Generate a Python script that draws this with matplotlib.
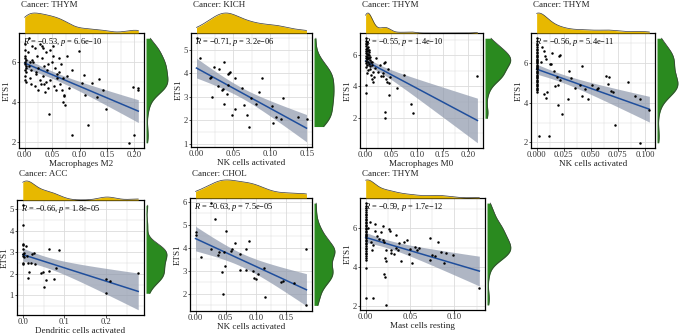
import numpy as np
import matplotlib
matplotlib.use("Agg")
import matplotlib.pyplot as plt
from matplotlib.ticker import FixedLocator

plt.rcParams["font.family"] = ["Liberation Serif", "DejaVu Serif"]
plt.rcParams["mathtext.fontset"] = "custom"
plt.rcParams["mathtext.rm"] = "Liberation Serif"
plt.rcParams["mathtext.it"] = "Liberation Serif:italic"

# ---------------- data ----------------
# THYM: Macrophages M2 vs ETS1
m2_x = [0.000, 0.001, 0.000, 0.002, 0.000, 0.001, 0.003, 0.000, 0.002, 0.001, 0.000, 0.002, 0.001, 0.003,
        0.008, 0.006, 0.010, 0.007, 0.012, 0.009, 0.011, 0.013, 0.014,
        0.018, 0.022, 0.016, 0.025, 0.020, 0.027, 0.019, 0.024, 0.028, 0.021, 0.029,
        0.033, 0.038, 0.031, 0.036, 0.041, 0.034, 0.039, 0.043, 0.037, 0.032, 0.042, 0.035, 0.044,
        0.047, 0.052, 0.049, 0.055, 0.058, 0.046, 0.053, 0.057, 0.051, 0.059,
        0.062, 0.066, 0.063, 0.069, 0.064, 0.068, 0.072, 0.070,
        0.099, 0.087, 0.116, 0.190, 0.200, 0.198, 0.207, 0.207, 0.149, 0.143, 0.136, 0.122,
        0.104, 0.108, 0.110, 0.131, 0.086, 0.077, 0.080, 0.071, 0.074, 0.077]
m2_y = [6.9, 6.3, 6.2, 6.1, 6.0, 5.9, 5.8, 5.6, 5.5, 5.3, 5.1, 5.0, 6.6, 5.7,
        7.2, 6.5, 6.0, 5.8, 5.6, 5.2, 4.9, 6.1, 6.8,
        6.7, 6.3, 6.0, 5.7, 5.4, 5.1, 4.8, 4.6, 6.9, 5.5, 4.9,
        6.7, 6.5, 6.2, 5.8, 5.6, 5.3, 5.0, 4.7, 4.5, 6.8, 5.9, 4.9, 3.44,
        6.6, 6.3, 6.0, 5.7, 5.4, 5.1, 4.8, 4.6, 6.8, 5.2,
        6.2, 5.9, 5.5, 5.2, 4.9, 4.6, 4.3, 4.0,
        6.57, 2.37, 2.89, 1.98, 2.37, 4.75, 4.60, 4.70, 3.67, 4.63, 5.15, 4.97,
        4.97, 5.37, 4.37, 4.28, 5.63, 5.29, 4.71, 4.37, 3.88, 6.31]

# KICH: NK cells activated vs ETS1
kich_x = [0.000, 0.005, 0.018, 0.019, 0.024, 0.030, 0.021, 0.029, 0.034, 0.036, 0.037, 0.037,
          0.041, 0.042, 0.044, 0.046, 0.042, 0.048, 0.052, 0.052, 0.061, 0.064, 0.068, 0.071,
          0.074, 0.080, 0.085, 0.089, 0.102, 0.104, 0.108, 0.114, 0.117, 0.138, 0.149]
kich_y = [5.50, 4.67, 3.81, 3.85, 4.29, 4.17, 3.00, 3.47, 3.30, 3.33, 4.49, 2.69,
          3.11, 3.99, 4.03, 4.06, 3.49, 2.24, 3.79, 2.50, 3.40, 2.64, 2.24, 1.74,
          2.96, 2.70, 3.19, 3.81, 2.61, 1.87, 2.14, 2.07, 2.96, 2.14, 2.04]

# THYM: Macrophages M0 vs ETS1
m0_x = [0.000, 0.001, 0.002, 0.000, 0.003, 0.001, 0.004, 0.002, 0.000, 0.005, 0.001, 0.003, 0.006,
        0.000, 0.002, 0.004, 0.007, 0.001, 0.003, 0.009, 0.000, 0.005, 0.002, 0.008, 0.001, 0.004,
        0.011, 0.000, 0.006, 0.003, 0.012, 0.001, 0.008, 0.005, 0.014, 0.002, 0.010, 0.016, 0.013,
        0.015, 0.009, 0.012, 0.007, 0.004, 0.006, 0.000, 0.000,
        0.038, 0.035, 0.030, 0.033, 0.041, 0.044, 0.046, 0.047, 0.046, 0.062, 0.075, 0.038, 0.038,
        0.088, 0.092, 0.218, 0.021, 0.018, 0.025, 0.028, 0.034, 0.040]
m0_y = [7.10, 6.95, 6.85, 6.75, 6.70, 6.62, 6.55, 6.50, 6.42, 6.35, 6.30, 6.25, 6.20,
        6.15, 6.10, 6.05, 6.00, 5.95, 5.92, 5.88, 5.85, 5.80, 5.75, 5.70, 5.65, 5.60,
        5.55, 5.50, 5.45, 5.40, 5.35, 5.25, 5.15, 5.05, 4.95, 4.85, 4.75, 4.60, 4.45,
        4.30, 5.30, 5.60, 5.80, 6.10, 6.35, 4.07, 3.60,
        5.60, 5.50, 4.70, 4.65, 4.30, 5.10, 4.20, 4.60, 3.43, 3.89, 4.75, 2.34, 1.95,
        2.86, 2.30, 4.65, 5.80, 5.20, 4.90, 5.40, 4.85, 4.50]

# THYM: NK cells activated vs ETS1
nk_x = [0.000] * 39 + [
        0.002, 0.011, 0.005, 0.007, 0.008, 0.009, 0.012, 0.013, 0.014, 0.004, 0.007, 0.010, 0.009,
        0.016, 0.021, 0.022, 0.020, 0.022, 0.017, 0.019, 0.020, 0.023, 0.029, 0.030, 0.032, 0.035,
        0.040, 0.042, 0.042, 0.045, 0.047, 0.051, 0.056, 0.057, 0.064, 0.067, 0.069, 0.066, 0.070,
        0.072, 0.084, 0.091, 0.095, 0.095, 0.104]
nk_y = [7.25, 7.10, 6.95, 6.90, 6.80, 6.72, 6.65, 6.55, 6.50, 6.42, 6.35, 6.30, 6.22, 6.15, 6.10,
        6.05, 5.98, 5.92, 5.85, 5.80, 5.74, 5.68, 5.60, 5.55, 5.48, 5.40, 5.35, 5.30, 5.22, 5.15,
        5.10, 5.02, 4.95, 4.90, 4.82, 4.75, 4.70, 4.62, 4.55] + [
        2.30, 2.33, 6.80, 6.60, 6.35, 6.20, 5.96, 5.96, 6.50, 6.07, 4.44, 4.56, 4.26,
        5.60, 6.37, 6.42, 4.90, 5.14, 4.84, 5.30, 3.86, 3.44, 4.18, 5.61, 5.23, 4.74,
        4.88, 5.84, 4.35, 4.70, 4.18, 4.91, 4.70, 4.74, 5.37, 5.32, 4.60, 4.95, 4.56,
        2.86, 5.02, 4.35, 4.21, 1.98, 3.65]

# ACC: Dendritic cells activated vs ETS1
acc_x = [0.000, 0.000, 0.000, 0.000, 0.001, 0.000, 0.001, 0.003, 0.001, 0.000, 0.004, 0.008,
         0.011, 0.012, 0.014, 0.012, 0.020, 0.023, 0.027, 0.030, 0.043, 0.049, 0.051, 0.057,
         0.063, 0.064, 0.076, 0.079, 0.088, 0.200, 0.200, 0.210, 0.278]
acc_y = [5.17, 4.24, 3.40, 3.32, 3.16, 2.92, 2.84, 2.76, 2.52, 2.44, 2.97, 3.30,
         2.84, 2.52, 2.08, 1.81, 2.52, 2.92, 2.97, 2.44, 2.02, 2.08, 1.41, 1.73,
         3.13, 2.13, 1.76, 2.29, 3.11, 1.76, 1.10, 1.65, 2.05]

# CHOL: NK cells activated vs ETS1
chol_x = [0.000, 0.000, 0.0095, 0.025, 0.026, 0.033, 0.037, 0.039, 0.044, 0.045, 0.047, 0.049,
          0.051, 0.059, 0.061, 0.065, 0.074, 0.074, 0.083, 0.083, 0.089, 0.095, 0.097, 0.100,
          0.104, 0.113, 0.116, 0.141, 0.145, 0.164, 0.184, 0.183]
chol_y = [4.67, 4.55, 3.58, 3.94, 5.94, 5.26, 3.68, 3.80, 2.97, 2.00, 3.80, 3.20,
          4.72, 3.87, 3.94, 4.23, 3.03, 3.71, 3.94, 3.03, 4.30, 2.99, 2.70, 2.64,
          2.88, 3.14, 1.86, 2.52, 2.57, 2.49, 3.94, 1.50]

# THYM: Mast cells resting vs ETS1
mast_x = [0.000] * 37 + [
          0.003, 0.005, 0.006, 0.007, 0.008, 0.008, 0.010, 0.011, 0.013, 0.015, 0.017, 0.019,
          0.019, 0.021, 0.023, 0.022, 0.023, 0.021, 0.022, 0.023, 0.026, 0.027, 0.028, 0.029,
          0.032, 0.034, 0.034, 0.036, 0.038, 0.040, 0.043, 0.046, 0.049, 0.050, 0.052, 0.055,
          0.058, 0.060, 0.072, 0.072, 0.075, 0.078, 0.081, 0.085, 0.088, 0.091, 0.098, 0.128]
mast_y = [7.30, 7.15, 7.05, 6.95, 6.85, 6.75, 6.68, 6.60, 6.50, 6.42, 6.35, 6.25, 6.18, 6.10,
          6.02, 5.95, 5.88, 5.80, 5.72, 5.65, 5.58, 5.50, 5.42, 5.35, 5.25, 5.18, 5.10, 5.00,
          4.92, 4.85, 4.75, 4.65, 4.55, 4.45, 4.35, 3.93, 2.40] + [
          6.00, 6.35, 5.30, 4.90, 5.15, 2.40, 5.85, 6.20, 5.60, 5.45, 5.80, 6.10,
          5.40, 5.30, 4.90, 4.45, 4.30, 3.65, 3.47, 2.05, 5.95, 5.88, 4.90, 4.72,
          4.65, 5.65, 4.98, 4.90, 5.25, 4.30, 5.30, 5.40, 4.70, 4.95, 4.20, 5.05,
          4.88, 5.00, 5.50, 4.38, 4.62, 4.55, 5.27, 4.80, 4.20, 4.75, 4.60, 2.90]

cancers = ["THYM", "KICH", "THYM", "THYM", "ACC", "CHOL", "THYM"]
cell_types = ["Macrophages M2", "NK cells activated", "Macrophages M0", "NK cells activated",
              "Dendritic cells activated", "NK cells activated", "Mast cells resting"]
r_values = ["\u22120.53", "\u22120.71", "\u22120.55", "\u22120.56", "\u22120.66", "\u22120.63", "\u22120.59"]
p_values = ["6.6e\u221210", "3.2e\u221206", "1.4e\u221210", "5.4e\u221211", "1.8e\u221205", "7.5e\u221205", "1.7e\u221212"]
xs_data = [m2_x, kich_x, m0_x, nk_x, acc_x, chol_x, mast_x]
ys_data = [m2_y, kich_y, m0_y, nk_y, acc_y, chol_y, mast_y]

x_ticks = [[0.00, 0.05, 0.10, 0.15, 0.20], [0.00, 0.05, 0.10, 0.15], [0.00, 0.05, 0.10, 0.15, 0.20],
           [0.000, 0.025, 0.050, 0.075, 0.100], [0.0, 0.1, 0.2], [0.00, 0.05, 0.10, 0.15], [0.00, 0.05, 0.10]]
x_tick_labels = [["0.00", "0.05", "0.10", "0.15", "0.20"], ["0.00", "0.05", "0.10", "0.15"],
                 ["0.00", "0.05", "0.10", "0.15", "0.20"], ["0.000", "0.025", "0.050", "0.075", "0.100"],
                 ["0.0", "0.1", "0.2"], ["0.00", "0.05", "0.10", "0.15"], ["0.00", "0.05", "0.10"]]
y_ticks = [[2, 4, 6], [1, 2, 3, 4, 5], [2, 4, 6], [2, 4, 6], [1, 2, 3, 4, 5], [2, 3, 4, 5, 6], [2, 4, 6]]

# ---------------- layout (pixels: left, top, right, bottom) ----------------
W, H = 683, 335
main_boxes = [(19, 33, 144, 148), (191, 33, 312, 147), (360, 33, 483, 148), (531, 33, 655, 148),
              (17, 200, 144, 315), (190, 198, 312, 311), (360, 198, 485, 310)]
right_widths = [23, 21, 27, 22, 22, 22, 25]
top_heights = [21, 21, 21, 21, 20, 19, 19]
title_y = [5, 5, 5, 5, 174, 174, 174]

GOLD = "#E7B800"
GREEN = "#2A8A1F"
LINE_BLUE = "#1F4E9C"
BAND = "#8E98AC"
GRID = "#DCDCDC"
TXT = "#333333"


def px_rect(l, t, r, b):
    return [l / W, 1 - b / H, (r - l) / W, (b - t) / H]


def kde(v, grid):
    v = np.asarray(v, float)
    n = len(v)
    sd = v.std(ddof=1)
    q75, q25 = np.percentile(v, [75, 25])
    spread = min(sd, (q75 - q25) / 1.34) if q75 > q25 else sd
    bw = 0.9 * spread * n ** -0.2
    z = (grid[:, None] - v[None, :]) / bw
    return np.exp(-0.5 * z ** 2).sum(1) / (n * bw * np.sqrt(2 * np.pi))


def t_quant(df, z=1.959964):
    return z + (z ** 3 + z) / (4 * df) + (5 * z ** 5 + 16 * z ** 3 + 3 * z) / (96 * df ** 2)


def lm_band(x, y, xs):
    n = len(x)
    b, a = np.polyfit(x, y, 1)
    fit = a + b * xs
    resid = y - (a + b * x)
    s = np.sqrt((resid ** 2).sum() / (n - 2))
    se = s * np.sqrt(1 / n + (xs - x.mean()) ** 2 / ((x - x.mean()) ** 2).sum())
    t = t_quant(n - 2)
    return fit, fit - t * se, fit + t * se


fig = plt.figure(figsize=(W / 100, H / 100), dpi=100)

for i in range(7):
    x = np.asarray(xs_data[i], float)
    y = np.asarray(ys_data[i], float)
    l, t, r, b = main_boxes[i]

    xs = np.linspace(x.min(), x.max(), 80)
    fit, lo, hi = lm_band(x, y, xs)

    xpad = 0.05 * (x.max() - x.min())
    xlim = (x.min() - xpad, x.max() + xpad)
    ylo = min(y.min(), lo.min())
    yhi = max(y.max(), hi.max())
    ypad = 0.05 * (yhi - ylo)
    ylim = (ylo - ypad, yhi + ypad)

    ax = fig.add_axes(px_rect(l, t, r, b))
    ax.set_xlim(*xlim)
    ax.set_ylim(*ylim)
    xt = x_ticks[i]
    ax.xaxis.set_major_locator(FixedLocator(xt))
    ax.set_xticklabels(x_tick_labels[i])
    step = xt[1] - xt[0]
    ax.xaxis.set_minor_locator(FixedLocator([v + step / 2 for v in [xt[0] - step] + xt]))
    yt = y_ticks[i]
    ax.yaxis.set_major_locator(FixedLocator(yt))
    ystep = yt[1] - yt[0]
    ax.yaxis.set_minor_locator(FixedLocator([v + ystep / 2 for v in [yt[0] - ystep] + yt]))
    ax.grid(True, which="major", color=GRID, lw=0.6)
    ax.grid(True, which="minor", color=GRID, lw=0.35)
    ax.set_axisbelow(True)
    ax.tick_params(which="major", length=1.8, width=0.6, color=TXT, labelsize=6.2,
                   labelcolor=TXT, pad=0.6)
    ax.tick_params(which="minor", length=0)
    for sp in ax.spines.values():
        sp.set_color("black")
        sp.set_linewidth(0.9)

    ax.fill_between(xs, lo, hi, color=BAND, alpha=0.7, lw=0, zorder=2)
    ax.plot(xs, fit, color=LINE_BLUE, lw=1.1, zorder=3)
    ax.scatter(x, y, s=3.2, color="black", lw=0, zorder=4)

    ax.set_xlabel(cell_types[i], fontsize=6.6, labelpad=0.2, color="#222222")
    ax.set_ylabel("ETS1", fontsize=6.6, labelpad=0.6, color="#222222")
    ax.text(0.03, 0.97, "$R$ = " + r_values[i] + ", $p$ = " + p_values[i],
            transform=ax.transAxes, ha="left", va="top", fontsize=6.0, zorder=5)

    # top marginal density of the cell fraction
    axt = fig.add_axes(px_rect(l, t - top_heights[i], r, t))
    gx = np.linspace(x.min(), x.max(), 300)
    dx = kde(x, gx)
    axt.fill_between(gx, 0, dx, color=GOLD, lw=0)
    axt.plot(gx, dx, color="#3A3A3A", lw=0.5)
    axt.set_xlim(*xlim)
    axt.set_ylim(0, dx.max() * 1.05)
    axt.axis("off")

    # right marginal density of ETS1
    axr = fig.add_axes(px_rect(r + 2, t, r + 2 + right_widths[i], b))
    gy = np.linspace(y.min(), y.max(), 300)
    dy = kde(y, gy)
    axr.fill_betweenx(gy, 0, dy, color=GREEN, lw=0)
    axr.plot(dy, gy, color="#3A3A3A", lw=0.5)
    axr.set_ylim(*ylim)
    axr.set_xlim(0, dy.max() * 1.05)
    axr.axis("off")

    fig.text((l + 2) / W, 1 - title_y[i] / H, "Cancer: " + cancers[i], ha="left", va="center",
             fontsize=6.5, color="#222222")

fig.savefig("out.png", dpi=100)
